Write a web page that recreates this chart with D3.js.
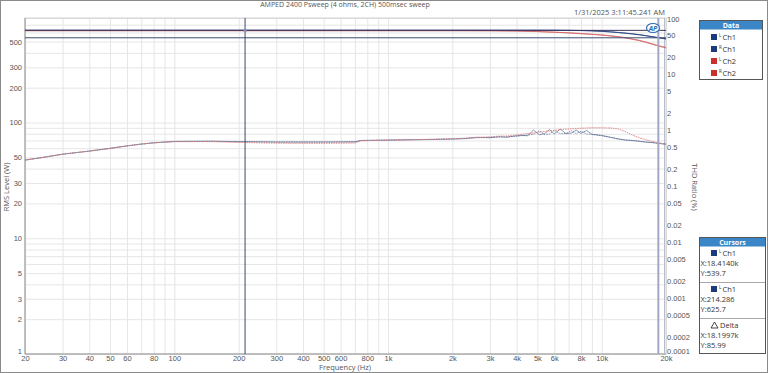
<!DOCTYPE html>
<html>
<head>
<meta charset="utf-8">
<script src="https://cdn.jsdelivr.net/npm/d3@7"></script>
<style>
    body { margin: 0; background: #fff; }
    svg { display: block; font-family: "Open Sans", "Noto Sans", sans-serif; }
    .tick-label { font-size: 7.5px; fill: #555; }
    .grid line { stroke: #e6e6e6; stroke-width: 1; }
    .grid path { display: none; }
    .panel-text { font-size: 7.5px; fill: #333; }
</style>
</head>
<body>
<div id="chart"></div>
<script>

// THD ratio sweep (%), frequencies in Hz
let thdFreq = [20, 25, 30, 40, 50, 60, 70, 80, 100, 150,
    200, 300, 500, 700, 750, 1000, 1300, 1600, 2000, 2300,
    2600, 3000, 3300, 3600, 3900, 4200, 4500, 4800, 5100, 5400,
    5700, 6000, 6400, 6800, 7200, 7600, 8000, 8500, 9000, 9500,
    10000, 11000, 12000, 13000, 14000, 15000, 16000, 17000, 18000, 19000,
    20000];

let thdCh1L = [0.29, 0.33, 0.37, 0.42, 0.47, 0.52, 0.56, 0.59, 0.625, 0.63,
    0.62, 0.61, 0.61, 0.615, 0.65, 0.66, 0.67, 0.675, 0.69, 0.70,
    0.74, 0.73, 0.76, 0.74, 0.78, 0.80, 0.79, 1.0, 0.82, 0.86,
    1.02, 0.85, 1.04, 0.86, 0.88, 1.0, 0.87, 0.98, 0.84, 0.82,
    0.80, 0.74, 0.69, 0.66, 0.65, 0.63, 0.61, 0.60, 0.585, 0.57,
    0.56];

let thdCh1R = [0.29, 0.33, 0.37, 0.42, 0.47, 0.52, 0.56, 0.59, 0.625, 0.63,
    0.62, 0.61, 0.61, 0.615, 0.65, 0.66, 0.67, 0.68, 0.69, 0.71,
    0.73, 0.73, 0.75, 0.76, 0.77, 0.79, 0.81, 0.84, 0.97, 0.83,
    0.85, 0.99, 0.86, 0.87, 0.97, 0.86, 0.95, 0.85, 0.83, 0.81,
    0.79, 0.74, 0.69, 0.66, 0.645, 0.63, 0.61, 0.60, 0.585, 0.57,
    0.56];

let thdCh2L = [0.29, 0.33, 0.37, 0.42, 0.47, 0.52, 0.56, 0.59, 0.62, 0.62,
    0.60, 0.58, 0.575, 0.585, 0.64, 0.66, 0.67, 0.68, 0.70, 0.71,
    0.73, 0.75, 0.78, 0.77, 0.80, 0.83, 0.86, 0.88, 0.91, 0.94,
    0.96, 0.98, 1.01, 1.03, 1.05, 1.06, 1.07, 1.08, 1.09, 1.09,
    1.09, 1.08, 1.04, 0.92, 0.80, 0.72, 0.67, 0.63, 0.60, 0.575,
    0.55];

let thdCh2R = [0.29, 0.33, 0.37, 0.42, 0.47, 0.52, 0.56, 0.59, 0.62, 0.62,
    0.60, 0.585, 0.58, 0.59, 0.645, 0.66, 0.675, 0.685, 0.70, 0.72,
    0.74, 0.76, 0.77, 0.79, 0.81, 0.84, 0.87, 0.89, 0.92, 0.95,
    0.97, 0.99, 1.02, 1.04, 1.05, 1.07, 1.08, 1.09, 1.10, 1.10,
    1.10, 1.09, 1.05, 0.93, 0.81, 0.73, 0.68, 0.64, 0.605, 0.58,
    0.555];

// RMS level (W)
let rmsFreq = [20, 100, 1000, 2000, 3000, 4000, 5000, 6000, 7000, 8000, 9000,
    10000, 11000, 12000, 13000, 14000, 15000, 16000, 17000, 18000, 19000, 20000];

let rmsCh1L = [626, 626, 626, 626, 626, 626, 626, 626, 625, 623, 619,
    613, 606, 598, 590, 581, 572, 562, 552, 543, 534, 527];
let rmsCh1R = [627, 627, 627, 627, 627, 627, 627, 627, 626, 624, 621,
    615, 608, 600, 592, 584, 575, 565, 555, 546, 537, 530];
let rmsCh2L = [621, 621, 621, 621, 620, 617, 610, 602, 594, 585, 577,
    569, 559, 549, 537, 523, 509, 494, 478, 463, 451, 441];
let rmsCh2R = [622, 622, 622, 622, 621, 618, 612, 604, 596, 588, 580,
    572, 562, 552, 540, 527, 513, 498, 483, 468, 456, 446];

// cursors
let cursorA = {freq: 18414.0, level: 539.7};
let cursorB = {freq: 214.286, level: 625.7};

// tick labels
let xTicks = [20, 30, 40, 50, 60, 80, 100, 200, 300, 400, 500, 600, 800,
    1000, 2000, 3000, 4000, 5000, 6000, 8000, 10000, 20000];
let xTickLabels = ["20", "30", "40", "50", "60", "80", "100", "200", "300", "400", "500", "600", "800",
    "1k", "2k", "3k", "4k", "5k", "6k", "8k", "10k", "20k"];
let leftTicks = [500, 300, 200, 100, 50, 30, 20, 10, 5, 3, 2, 1];
let rightTicks = [100, 50, 20, 10, 5, 2, 1, 0.5, 0.2, 0.1, 0.05, 0.02, 0.01,
    0.005, 0.002, 0.001, 0.0005, 0.0002, 0.0001];
let rightTickLabels = ["100", "50", "20", "10", "5", "2", "1", "0.5", "0.2", "0.1", "0.05", "0.02", "0.01",
    "0.005", "0.002", "0.001", "0.0005", "0.0002", "0.0001"];

let legendNames = ["Ch1", "Ch1", "Ch2", "Ch2"];
let legendSides = ["L", "R", "L", "R"];

let ch1Color = "#1b3b7d",
    ch2Color = "#c9302c";

let width = 768, height = 373;
let plot = {left: 25, right: 666, top: 18, bottom: 354};

let svg = d3.select("#chart").append("svg")
    .attr("width", width)
    .attr("height", height);

// window frame
svg.append("rect")
    .attr("x", 0.5).attr("y", 0.5)
    .attr("width", width - 1).attr("height", height - 1)
    .attr("fill", "#fff")
    .attr("stroke", "#8a8a8a");

let x = d3.scaleLog().domain([20, 20000]).range([plot.left, plot.right]);
let yL = d3.scaleLog().domain([1, 800]).range([plot.bottom, plot.top]);
let yR = d3.scaleLog().domain([0.0001, 100]).range([plot.bottom, plot.top]);

// minor grid values 1..9 per decade
let xGrid = [];
[10, 100, 1000, 10000].forEach(function(dec) {
    for (let m = 1; m < 10; m++) {
        let v = dec * m;
        if (v >= 20 && v <= 20000) xGrid.push(v);
    }
});
let yGrid = [];
[1, 10, 100].forEach(function(dec) {
    for (let m = 1; m < 10; m++) {
        let v = dec * m;
        if (v <= 800) yGrid.push(v);
    }
});

let plotH = plot.bottom - plot.top,
    plotW = plot.right - plot.left;

svg.append("g")
    .attr("class", "grid")
    .attr("transform", "translate(0," + plot.bottom + ")")
    .call(d3.axisBottom(x).tickValues(xGrid).tickSize(-plotH).tickFormat(""));

svg.append("g")
    .attr("class", "grid")
    .attr("transform", "translate(" + plot.left + ",0)")
    .call(d3.axisLeft(yL).tickValues(yGrid).tickSize(-plotW).tickFormat(""));

// plot border
svg.append("rect")
    .attr("x", plot.left).attr("y", plot.top)
    .attr("width", plotW).attr("height", plotH)
    .attr("fill", "none")
    .attr("stroke", "#d0d0d0");
svg.append("line")
    .attr("x1", plot.left).attr("x2", plot.left)
    .attr("y1", plot.top).attr("y2", plot.bottom)
    .attr("stroke", "#999");
svg.append("line")
    .attr("x1", plot.left).attr("x2", plot.right)
    .attr("y1", plot.bottom).attr("y2", plot.bottom)
    .attr("stroke", "#999");
svg.append("line")
    .attr("x1", plot.right - 1.5).attr("x2", plot.right - 1.5)
    .attr("y1", plot.top).attr("y2", plot.bottom)
    .attr("stroke", "#b8bccb");

// ---- AXES ----
let xAxis = svg.append("g")
    .attr("transform", "translate(0," + plot.bottom + ")")
    .call(d3.axisBottom(x).tickValues(xTicks).tickSize(0).tickPadding(2)
        .tickFormat((d, i) => xTickLabels[i]));
xAxis.select(".domain").remove();
xAxis.selectAll("text").attr("class", "tick-label");

let yAxisL = svg.append("g")
    .attr("transform", "translate(" + plot.left + ",0)")
    .call(d3.axisLeft(yL).tickValues(leftTicks).tickSize(0).tickPadding(3)
        .tickFormat(d3.format("d")));
yAxisL.select(".domain").remove();
yAxisL.selectAll("text").attr("class", "tick-label")
    .attr("dy", d => d === 1 ? "-0.1em" : "0.32em");

let yAxisR = svg.append("g")
    .attr("transform", "translate(" + plot.right + ",0)")
    .call(d3.axisRight(yR).tickValues(rightTicks).tickSize(0).tickPadding(1)
        .tickFormat((d, i) => rightTickLabels[i]));
yAxisR.select(".domain").remove();
yAxisR.selectAll("text").attr("class", "tick-label")
    .attr("dy", d => d === 0.0001 ? "-0.1em" : (d === 100 ? "0.5em" : "0.32em"));

svg.append("text")
    .attr("class", "tick-label")
    .attr("x", 345).attr("y", 370)
    .attr("text-anchor", "middle")
    .text("Frequency (Hz)");

svg.append("text")
    .attr("class", "tick-label")
    .attr("transform", "translate(9,187) rotate(-90)")
    .attr("text-anchor", "middle")
    .text("RMS Level (W)");

svg.append("text")
    .attr("class", "tick-label")
    .attr("transform", "translate(692,187) rotate(90)")
    .attr("text-anchor", "middle")
    .text("THD Ratio (%)");

svg.append("text")
    .attr("x", 345).attr("y", 7)
    .attr("text-anchor", "middle")
    .attr("font-size", 7)
    .attr("fill", "#555")
    .text("AMPED 2400 Psweep (4 ohms, 2CH) 500msec sweep");

svg.append("text")
    .attr("x", 665).attr("y", 15)
    .attr("text-anchor", "end")
    .attr("font-size", 7.5)
    .attr("fill", "#555")
    .text("1/31/2025 3:11:45.241 AM");

// ---- TRACES ----
function drawTrace(freqs, values, yScale, color, dash, op) {
    let line = d3.line()
        .x((d, i) => x(freqs[i]))
        .y(d => yScale(d));
    svg.append("path")
        .datum(values)
        .attr("d", line)
        .attr("fill", "none")
        .attr("stroke", color)
        .attr("stroke-width", 0.9)
        .attr("stroke-dasharray", dash || null)
        .attr("opacity", op || 0.85);
}

drawTrace(rmsFreq, rmsCh1L, yL, ch1Color);
drawTrace(rmsFreq, rmsCh1R, yL, ch1Color);
drawTrace(rmsFreq, rmsCh2L, yL, "#d06060");
drawTrace(rmsFreq, rmsCh2R, yL, "#d06060");

drawTrace(thdFreq, thdCh1L, yR, "#4a5d86", null, 0.7);
drawTrace(thdFreq, thdCh1R, yR, "#4a5d86", "1.5,1", 0.7);
drawTrace(thdFreq, thdCh2L, yR, "#d98080", "1.2,1.2", 0.8);
drawTrace(thdFreq, thdCh2R, yR, "#d98080", "1,1.5", 0.8);

// ---- CURSORS ----
svg.append("line")
    .attr("x1", plot.left).attr("x2", plot.right)
    .attr("y1", yL(cursorB.level)).attr("y2", yL(cursorB.level))
    .attr("stroke", "#3b3560").attr("stroke-width", 1);
svg.append("line")
    .attr("x1", plot.left).attr("x2", plot.right)
    .attr("y1", yL(cursorA.level)).attr("y2", yL(cursorA.level))
    .attr("stroke", "#3d4d72").attr("stroke-width", 1);
svg.append("line")
    .attr("x1", x(cursorB.freq)).attr("x2", x(cursorB.freq))
    .attr("y1", plot.top).attr("y2", plot.bottom)
    .attr("stroke", "#3c4a66").attr("stroke-width", 1);
svg.append("line")
    .attr("x1", x(cursorA.freq)).attr("x2", x(cursorA.freq))
    .attr("y1", plot.top).attr("y2", plot.bottom)
    .attr("stroke", "#a2a8c2").attr("stroke-width", 2);
svg.append("rect")
    .attr("x", x(cursorB.freq) - 1.5).attr("y", yL(cursorB.level) - 1.5)
    .attr("width", 3).attr("height", 3)
    .attr("fill", "#8a90b0");

// AP logo
let ap = svg.append("g").attr("transform", "translate(653,28)");
ap.append("ellipse")
    .attr("rx", 6.5).attr("ry", 4.5)
    .attr("fill", "#fff")
    .attr("stroke", "#2f6db5").attr("stroke-width", 1.2);
ap.append("text")
    .attr("text-anchor", "middle").attr("y", 2.5)
    .attr("font-size", 7).attr("font-weight", "bold").attr("font-style", "italic")
    .attr("fill", "#2f6db5")
    .text("AP");

// ---- DATA LEGEND ----
let legend = svg.append("g");
legend.append("rect")
    .attr("x", 699.5).attr("y", 20.5).attr("width", 63).attr("height", 59)
    .attr("fill", "#fff").attr("stroke", "#555");
legend.append("rect")
    .attr("x", 700).attr("y", 21).attr("width", 62).attr("height", 8.5)
    .attr("fill", "#3a86c6");
legend.append("text")
    .attr("x", 731).attr("y", 27.8)
    .attr("text-anchor", "middle")
    .attr("font-size", 7).attr("font-weight", "bold").attr("fill", "#fff")
    .text("Data");

legendNames.forEach(function(name, i) {
    let cy = 37 + i * 12;
    let color = name === "Ch1" ? ch1Color : ch2Color;
    legend.append("rect")
        .attr("x", 711).attr("y", cy - 3).attr("width", 6).attr("height", 6)
        .attr("fill", color);
    legend.append("text")
        .attr("x", 719).attr("y", cy - 0.5)
        .attr("font-size", 4.5).attr("fill", "#333")
        .text(legendSides[i]);
    legend.append("text")
        .attr("class", "panel-text")
        .attr("x", 722.5).attr("y", cy + 2.8)
        .text(name);
});

// ---- CURSORS PANEL ----
let cp = svg.append("g");
cp.append("rect")
    .attr("x", 699.5).attr("y", 237.5).attr("width", 66).attr("height", 116)
    .attr("fill", "#fff").attr("stroke", "#555");
cp.append("rect")
    .attr("x", 700).attr("y", 238).attr("width", 65).attr("height", 8.5)
    .attr("fill", "#3a86c6");
cp.append("text")
    .attr("x", 732.5).attr("y", 244.8)
    .attr("text-anchor", "middle")
    .attr("font-size", 7).attr("font-weight", "bold").attr("fill", "#fff")
    .text("Cursors");

let cursorRows = [
    {top: 253, label: "Ch1", x: "X:18.4140k", y: "Y:539.7", delta: false},
    {top: 289, label: "Ch1", x: "X:214.286", y: "Y:625.7", delta: false},
    {top: 325, label: "Delta", x: "X:18.1997k", y: "Y:85.99", delta: true}
];

cursorRows.forEach(function(r, i) {
    if (r.delta) {
        cp.append("path")
            .attr("d", "M711," + (r.top + 3) + "L714.5," + (r.top - 3) + "L718," + (r.top + 3) + "Z")
            .attr("fill", "none").attr("stroke", "#333").attr("stroke-width", 0.9);
        cp.append("text").attr("class", "panel-text")
            .attr("x", 720).attr("y", r.top + 2.8).text(r.label);
    } else {
        cp.append("rect")
            .attr("x", 711).attr("y", r.top - 3).attr("width", 6).attr("height", 6)
            .attr("fill", ch1Color);
        cp.append("text")
            .attr("x", 719).attr("y", r.top - 0.5)
            .attr("font-size", 4.5).attr("fill", "#333").text("L");
        cp.append("text").attr("class", "panel-text")
            .attr("x", 722.5).attr("y", r.top + 2.8).text(r.label);
    }
    cp.append("text").attr("class", "panel-text")
        .attr("x", 700.5).attr("y", r.top + 12.5).text(r.x);
    cp.append("text").attr("class", "panel-text")
        .attr("x", 700.5).attr("y", r.top + 23).text(r.y);
    if (i < cursorRows.length - 1) {
        cp.append("line")
            .attr("x1", 700).attr("x2", 765)
            .attr("y1", r.top + 29.5).attr("y2", r.top + 29.5)
            .attr("stroke", "#aaa");
    }
});

</script>
</body>
</html>
